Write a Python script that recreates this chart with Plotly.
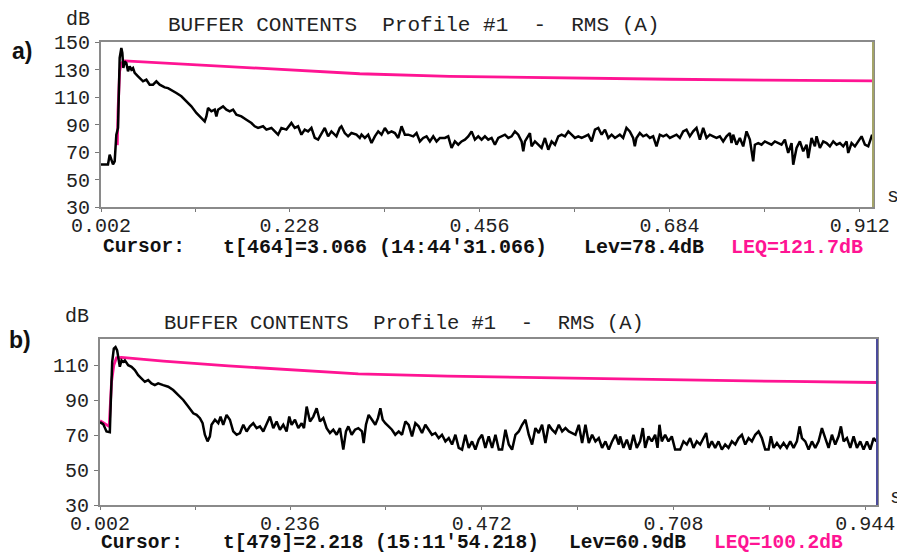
import plotly.graph_objects as go

W, H = 897, 553

# ---------------- Panel a) data ----------------
a_time = [0.002, 0.0104, 0.0124, 0.0144, 0.0164, 0.0184, 0.0204, 0.0224, 0.0244, 0.0264, 0.0276, 0.0288,
          0.0304, 0.0324, 0.0344, 0.0364, 0.0384, 0.0404, 0.0424, 0.0464, 0.0524, 0.0564, 0.0584, 0.0604,
          0.0644, 0.0684, 0.0724, 0.0784, 0.0824, 0.0864, 0.0924, 0.0984, 0.1044, 0.1104, 0.1164, 0.1224,
          0.1264, 0.1284, 0.1304, 0.1344, 0.1384, 0.1404, 0.1424, 0.1484, 0.1524, 0.1564, 0.1604, 0.1644,
          0.1704, 0.1764, 0.1824, 0.1864, 0.1904, 0.1964, 0.2004, 0.2064, 0.2104, 0.2144, 0.2184, 0.2244,
          0.2304, 0.2344, 0.2384, 0.2424, 0.2464, 0.2504, 0.2544, 0.2584, 0.2624, 0.2664, 0.2704, 0.2744,
          0.2784, 0.2844, 0.2884, 0.2904, 0.2944, 0.2984, 0.3024, 0.3084, 0.3124,
          0.3145, 0.3185, 0.3225, 0.3265, 0.3305, 0.3345, 0.3385, 0.3425, 0.3465, 0.3505, 0.3545, 0.3585,
          0.3625, 0.3665, 0.3705, 0.3765, 0.3805, 0.3845, 0.3885, 0.3925, 0.3965, 0.4005, 0.4045, 0.4085,
          0.4145, 0.4185, 0.4225, 0.4265, 0.4305, 0.4345, 0.4385, 0.4425, 0.4465, 0.4505, 0.4545, 0.4585,
          0.4625, 0.4665, 0.4705, 0.4745, 0.4785, 0.4825, 0.4865, 0.4905, 0.4945, 0.4985, 0.5025, 0.5065,
          0.5085, 0.5105, 0.5145, 0.5165, 0.5185, 0.5225, 0.5265, 0.5305, 0.5345, 0.5385, 0.5425, 0.5465,
          0.5505, 0.5545, 0.5585, 0.5625, 0.5665, 0.5705, 0.5745, 0.5785, 0.5825, 0.5865, 0.5905, 0.5945,
          0.5985, 0.6025, 0.6065, 0.6105, 0.6145, 0.6185,
          0.6243, 0.6283, 0.6323, 0.6363, 0.6403, 0.6423, 0.6443, 0.6483, 0.6523, 0.6563, 0.6603, 0.6643,
          0.6683, 0.6723, 0.6763, 0.6803, 0.6843, 0.6883, 0.6923, 0.6963, 0.7003, 0.7043, 0.7083, 0.7123,
          0.7163, 0.7203, 0.7243, 0.7283, 0.7323, 0.7363, 0.7403, 0.7443, 0.7483, 0.7523, 0.7563, 0.7583,
          0.7603, 0.7643, 0.7683, 0.7723, 0.7763, 0.7803, 0.7823, 0.7843, 0.7863, 0.7903, 0.7943, 0.7983,
          0.8023, 0.8063, 0.8103, 0.8143, 0.8183, 0.8223, 0.8263, 0.8303, 0.8323, 0.8363, 0.8403, 0.8443,
          0.8483, 0.8503, 0.8543, 0.8583, 0.8603, 0.8643, 0.8683, 0.8723, 0.8763, 0.8803, 0.8843, 0.8883,
          0.8923, 0.8963, 0.8983, 0.9023, 0.9063, 0.9103, 0.9143, 0.9183, 0.9223, 0.9263, 0.9283]
a_level = [61.0, 61.0, 68.0, 64.4, 61.0, 63.2, 82.6, 87.5, 138.4, 145.6, 142.0, 131.1,
           135.9, 134.7, 128.7, 132.3, 129.9, 131.1, 127.5, 125.0, 121.4, 122.6, 120.2, 119.0,
           119.0, 121.4, 119.0, 117.0, 116.5, 115.3, 112.9, 110.5, 106.8, 103.2, 98.4, 94.7,
           92.3, 95.9, 102.0, 99.6, 100.8, 95.9, 100.8, 103.2, 100.8, 99.6, 100.8, 97.2,
           95.9, 93.5, 91.1, 88.7, 87.5, 88.7, 86.3, 87.5, 85.0, 82.6, 87.5, 86.3,
           91.1, 87.5, 88.7, 82.6, 86.3, 85.0, 87.5, 80.2, 79.0, 83.8, 87.5, 81.4,
           85.0, 81.4, 87.5, 88.7, 83.8, 81.4, 83.8, 82.6, 80.2,
           82.6, 80.2, 82.6, 76.5, 81.4, 85.0, 82.6, 87.5, 83.8, 85.0, 83.8, 80.2,
           88.7, 82.6, 82.6, 81.4, 83.8, 77.7, 80.2, 81.4, 77.7, 81.4, 77.7, 80.2,
           80.2, 81.4, 72.9, 77.7, 75.3, 77.7, 79.0, 81.4, 85.0, 79.0, 81.4, 79.0,
           81.4, 79.0, 80.2, 75.3, 80.2, 81.4, 82.6, 80.2, 81.4, 85.0, 82.6, 77.7,
           70.5, 77.7, 81.4, 83.8, 74.1, 77.7, 75.3, 72.9, 80.2, 71.7, 77.7, 75.3,
           81.4, 82.6, 81.4, 85.0, 82.6, 80.2, 81.4, 80.2, 81.4, 82.6, 77.7, 86.3,
           87.5, 82.6, 86.3, 80.2, 82.6, 80.2,
           82.6, 80.2, 87.5, 85.0, 80.2, 74.1, 80.2, 83.8, 81.4, 82.6, 80.2, 81.4,
           74.1, 82.6, 81.4, 82.6, 80.2, 81.4, 82.6, 80.2, 85.0, 86.3, 81.4, 85.0,
           87.5, 79.0, 87.5, 80.2, 82.6, 81.4, 80.2, 81.4, 77.7, 81.4, 83.8, 76.5,
           82.6, 75.3, 80.2, 74.1, 85.0, 79.0, 70.5, 63.2, 75.3, 76.5, 75.3, 77.7,
           76.5, 75.3, 77.7, 76.5, 75.3, 79.0, 69.3, 76.5, 60.8, 72.9, 77.7, 70.5,
           75.3, 65.6, 80.2, 74.1, 81.4, 72.9, 77.7, 76.5, 74.1, 77.7, 75.3, 76.5,
           74.1, 77.7, 69.3, 76.5, 74.1, 77.7, 81.4, 75.3, 74.1, 81.4, 80.2]
a_leq_time = [0.0216, 0.0224, 0.0244, 0.0264, 0.0304, 0.0800, 0.1500, 0.2280, 0.3124,
              0.4200, 0.5500, 0.6840, 0.8000, 0.9283]
a_leq_level = [75.0, 100.0, 128.7, 134.7, 136.3, 134.6, 132.2, 129.4, 126.9,
               125.0, 123.8, 122.9, 122.2, 121.7]

# ---------------- Panel b) data ----------------
b_time = [0.002, 0.0059, 0.0100, 0.0141, 0.0153, 0.0170, 0.0190, 0.0211, 0.0231, 0.0252, 0.0264, 0.0285,
          0.0305, 0.0326, 0.0367, 0.0408, 0.0449, 0.0490, 0.0531, 0.0572, 0.0613, 0.0654, 0.0695, 0.0736,
          0.0798, 0.0860, 0.0921, 0.0983, 0.1045, 0.1106, 0.1168, 0.1209, 0.1250, 0.1283, 0.1311, 0.1344,
          0.1373, 0.1393, 0.1435, 0.1476, 0.1504, 0.1537, 0.1578, 0.1619, 0.1660, 0.1702, 0.1743, 0.1784,
          0.1825, 0.1866, 0.1907, 0.1948, 0.1989, 0.2030, 0.2071, 0.2112, 0.2153, 0.2194, 0.2235, 0.2276,
          0.2317, 0.2350, 0.2379, 0.2420, 0.2461, 0.2502, 0.2531, 0.2564, 0.2605, 0.2646, 0.2687, 0.2728,
          0.2769, 0.2810, 0.2851, 0.2892, 0.2933, 0.2974, 0.3015, 0.3048, 0.3077, 0.3118, 0.3159, 0.3200,
          0.3245, 0.3266, 0.3294, 0.3327, 0.3368, 0.3409, 0.3442, 0.3471, 0.3500, 0.3532, 0.3573, 0.3614,
          0.3655, 0.3697, 0.3738, 0.3779, 0.3820, 0.3861, 0.3902, 0.3943, 0.3984, 0.4025, 0.4066, 0.4107,
          0.4148, 0.4189, 0.4230, 0.4272, 0.4313, 0.4354, 0.4395, 0.4436, 0.4477, 0.4518, 0.4559, 0.4600,
          0.4641, 0.4682, 0.4723, 0.4764, 0.4805, 0.4847, 0.4888, 0.4929, 0.4970, 0.5011, 0.5052, 0.5093,
          0.5134, 0.5175, 0.5216, 0.5257, 0.5298, 0.5339, 0.5380, 0.5421, 0.5462, 0.5503, 0.5544, 0.5585,
          0.5626, 0.5668, 0.5709, 0.5750, 0.5791, 0.5832, 0.5873, 0.5914, 0.5955, 0.5996, 0.6037, 0.6078,
          0.6119, 0.6160, 0.6201, 0.6242, 0.6283, 0.6324, 0.6366,
          0.6407, 0.6423, 0.6464, 0.6505, 0.6546, 0.6587, 0.6628, 0.6669, 0.6702, 0.6731, 0.6772, 0.6813,
          0.6854, 0.6883, 0.6907, 0.6936, 0.6977, 0.7018, 0.7059, 0.7100, 0.7162, 0.7203, 0.7244, 0.7285,
          0.7326, 0.7367, 0.7408, 0.7449, 0.7482, 0.7511, 0.7552, 0.7593, 0.7634, 0.7675, 0.7716, 0.7757,
          0.7798, 0.7840, 0.7881, 0.7922, 0.7963, 0.8004, 0.8045, 0.8086, 0.8127, 0.8168, 0.8209, 0.8250,
          0.8279, 0.8312, 0.8353, 0.8394, 0.8435, 0.8476, 0.8517, 0.8558, 0.8599, 0.8632, 0.8661, 0.8702,
          0.8743, 0.8784, 0.8825, 0.8866, 0.8907, 0.8948, 0.8989, 0.9030, 0.9071, 0.9112, 0.9141, 0.9174,
          0.9215, 0.9256, 0.9297, 0.9338, 0.9379, 0.9420, 0.9461, 0.9502, 0.9543, 0.9576]
b_level = [77.4, 76.3, 72.1, 71.7, 89.2, 111.9, 119.5, 120.4, 118.5, 113.8, 109.1, 112.8,
           111.9, 112.8, 110.0, 109.1, 107.2, 104.3, 102.4, 100.5, 101.5, 99.6, 98.6, 99.6,
           98.6, 97.7, 95.8, 92.9, 90.1, 86.3, 82.5, 81.6, 79.7, 76.8, 70.2, 66.4,
           69.3, 75.9, 78.8, 76.8, 80.6, 75.9, 81.6, 78.8, 72.1, 70.2, 71.2, 75.9,
           72.1, 75.0, 76.8, 74.0, 75.0, 72.1, 75.9, 80.6, 74.0, 77.8, 73.1, 75.9,
           72.1, 80.6, 75.9, 78.8, 74.0, 76.8, 74.0, 86.3, 77.8, 80.6, 85.4, 77.8,
           79.7, 74.0, 71.2, 73.1, 70.2, 74.0, 61.7, 72.1, 75.0, 70.2, 73.1, 74.0,
           72.1, 65.5, 75.9, 81.6, 78.8, 75.9, 79.7, 85.4, 78.8, 76.8, 75.0, 73.1,
           70.2, 72.1, 70.2, 77.8, 75.9, 69.3, 76.8, 75.0, 71.2, 75.9, 73.1, 70.2,
           71.2, 68.3, 70.2, 66.4, 68.3, 64.6, 70.2, 62.7, 61.7, 70.2, 62.7, 66.4,
           61.7, 67.4, 70.2, 62.7, 69.3, 62.7, 70.2, 61.7, 61.7, 73.1, 64.6, 61.7,
           70.2, 72.1, 75.9, 78.8, 70.2, 64.6, 74.0, 71.2, 75.9, 65.5, 75.9, 73.1,
           71.2, 75.9, 72.1, 74.0, 72.1, 71.2, 70.2, 75.9, 65.5, 75.9, 65.5, 70.2,
           66.4, 68.3, 62.7, 66.4, 61.7, 66.4, 70.2,
           64.6, 69.3, 62.7, 67.4, 61.7, 70.2, 62.7, 66.4, 74.0, 62.7, 69.3, 66.4,
           70.2, 62.7, 75.9, 66.4, 70.2, 66.4, 69.3, 61.7, 61.7, 66.4, 64.6, 68.3,
           62.7, 66.4, 64.6, 68.3, 71.2, 62.7, 66.4, 62.7, 66.4, 61.7, 64.6, 62.7,
           66.4, 64.6, 68.3, 70.2, 64.6, 68.3, 66.4, 70.2, 72.1, 68.3, 61.7, 61.7,
           69.3, 62.7, 65.5, 62.7, 65.5, 62.7, 66.4, 62.7, 66.4, 75.0, 68.3, 66.4,
           61.7, 66.4, 62.7, 66.4, 74.0, 68.3, 62.7, 70.2, 64.6, 69.3, 75.0, 66.4,
           68.3, 62.7, 69.3, 62.7, 66.4, 61.7, 66.4, 61.7, 68.3, 66.4]
b_leq_time = [0.002, 0.0133, 0.0149, 0.0162, 0.0190, 0.0223, 0.0285, 0.0800, 0.1600, 0.2360,
              0.3200, 0.4300, 0.5500, 0.7080, 0.8500, 0.9576]
b_leq_level = [78.2, 75.0, 89.0, 100.5, 110.0, 114.2, 114.5, 112.3, 109.6, 107.5,
               105.0, 103.7, 102.8, 101.5, 100.7, 100.1]

# ---------------- Axis ticks / text ----------------
a_yticks = [30, 50, 70, 90, 110, 130, 150]
a_xticks = [0.002, 0.115, 0.228, 0.342, 0.456, 0.570, 0.684, 0.798, 0.912]
a_xticktext = ["0.002", "", "0.228", "", "0.456", "", "0.684", "", "0.912"]
b_yticks = [30, 50, 70, 90, 110]
b_xticks = [0.002, 0.119, 0.236, 0.354, 0.472, 0.590, 0.708, 0.826, 0.944]
b_xticktext = ["0.002", "", "0.236", "", "0.472", "", "0.708", "", "0.944"]

title_text = "BUFFER CONTENTS  Profile #1  -  RMS (A)"
a_cursor = ["Cursor:", "t[464]=3.066 (14:44'31.066)", "Lev=78.4dB", "LEQ=121.7dB"]
b_cursor = ["Cursor:", "t[479]=2.218 (15:11'54.218)", "Lev=60.9dB", "LEQ=100.2dB"]

BLACK = "#000000"
PINK = "#ff1493"
FRAME = "#8a8a8a"
MONO = "Liberation Mono, Courier New, monospace"


def px(x):
    return x / W


def py(y):
    return 1 - y / H


fig = go.Figure()
fig.add_trace(go.Scatter(x=a_leq_time, y=a_leq_level, mode="lines", line=dict(color=PINK, width=2.8),
                         xaxis="x", yaxis="y", showlegend=False))
fig.add_trace(go.Scatter(x=a_time, y=a_level, mode="lines", line=dict(color=BLACK, width=2.5),
                         xaxis="x", yaxis="y", showlegend=False))
fig.add_trace(go.Scatter(x=b_leq_time, y=b_leq_level, mode="lines", line=dict(color=PINK, width=2.8),
                         xaxis="x2", yaxis="y2", showlegend=False))
fig.add_trace(go.Scatter(x=b_time, y=b_level, mode="lines", line=dict(color=BLACK, width=2.5),
                         xaxis="x2", yaxis="y2", showlegend=False))

tickfont = dict(family=MONO, size=20, color="#222222")
common_x = dict(showgrid=False, zeroline=False, showline=True, mirror=True, linecolor=FRAME, linewidth=2,
                ticks="outside", ticklen=3, tickcolor="#777777", tickfont=tickfont, tickmode="array",
                ticklabelstandoff=-4, automargin=False)
common_y = dict(showgrid=False, zeroline=False, showline=True, mirror=True, linecolor=FRAME, linewidth=2,
                ticks="outside", ticklen=4, tickcolor="#777777", tickfont=tickfont, tickmode="array",
                ticklabelstandoff=1, automargin=False)

fig.update_layout(
    width=W, height=H,
    margin=dict(l=0, r=0, t=0, b=0, autoexpand=False),
    paper_bgcolor="white", plot_bgcolor="white",
    xaxis=dict(common_x, domain=[px(101), px(873)], range=[0.002, 0.928],
               tickvals=a_xticks, ticktext=a_xticktext, anchor="y"),
    yaxis=dict(common_y, domain=[py(207), py(42)], range=[30, 150], tickvals=a_yticks, anchor="x"),
    xaxis2=dict(common_x, domain=[px(100), px(877)], range=[0.002, 0.9585],
                tickvals=b_xticks, ticktext=b_xticktext, anchor="y2"),
    yaxis2=dict(common_y, domain=[py(505), py(339)], range=[30, 125], tickvals=b_yticks, anchor="x2"),
)

# coloured right borders
fig.add_shape(type="line", xref="x domain", yref="y domain", x0=1, x1=1, y0=0, y1=1,
              line=dict(color="#a4a468", width=2))
fig.add_shape(type="line", xref="x2 domain", yref="y2 domain", x0=1, x1=1, y0=0, y1=1,
              line=dict(color="#4b4b9b", width=2))

ann = []


def text(x, y, s, size=20, color="#222222", bold=False, anchor="left", family=MONO):
    ann.append(dict(x=px(x), y=py(y), xref="paper", yref="paper", text=("<b>%s</b>" % s) if bold else s,
                    showarrow=False, xanchor=anchor, yanchor="middle",
                    font=dict(family=family, size=size, color=color)))


# panel a
text(78, 19, "dB", anchor="center")
text(166, 25, title_text, size=21)
text(10, 51, "a)", size=23, color="#111111", bold=True, anchor="left", family="Liberation Sans, Arial")
text(885, 197, "s")
text(101, 247, a_cursor[0], size=19.5, bold=True, color="#111111")
text(221, 247, a_cursor[1], size=20, bold=True, color="#111111")
text(582, 247, a_cursor[2], size=20, bold=True, color="#111111")
text(729, 247, a_cursor[3], size=20, bold=True, color=PINK)

# panel b
text(77, 316, "dB", anchor="center")
text(162, 323, title_text, size=20.5)
text(7, 340, "b)", size=23, color="#111111", bold=True, anchor="left", family="Liberation Sans, Arial")
text(888, 498, "s")
text(99, 543, b_cursor[0], size=19.5, bold=True, color="#111111")
text(221, 543, b_cursor[1], size=19.5, bold=True, color="#111111")
text(567, 543, b_cursor[2], size=19.5, bold=True, color="#111111")
text(712, 543, b_cursor[3], size=19.5, bold=True, color=PINK)

fig.update_layout(annotations=ann)
fig.write_html(
    "out.html",
    config={"displayModeBar": False},
    post_script="document.body.style.margin='0';document.body.style.overflow='hidden';",
)
